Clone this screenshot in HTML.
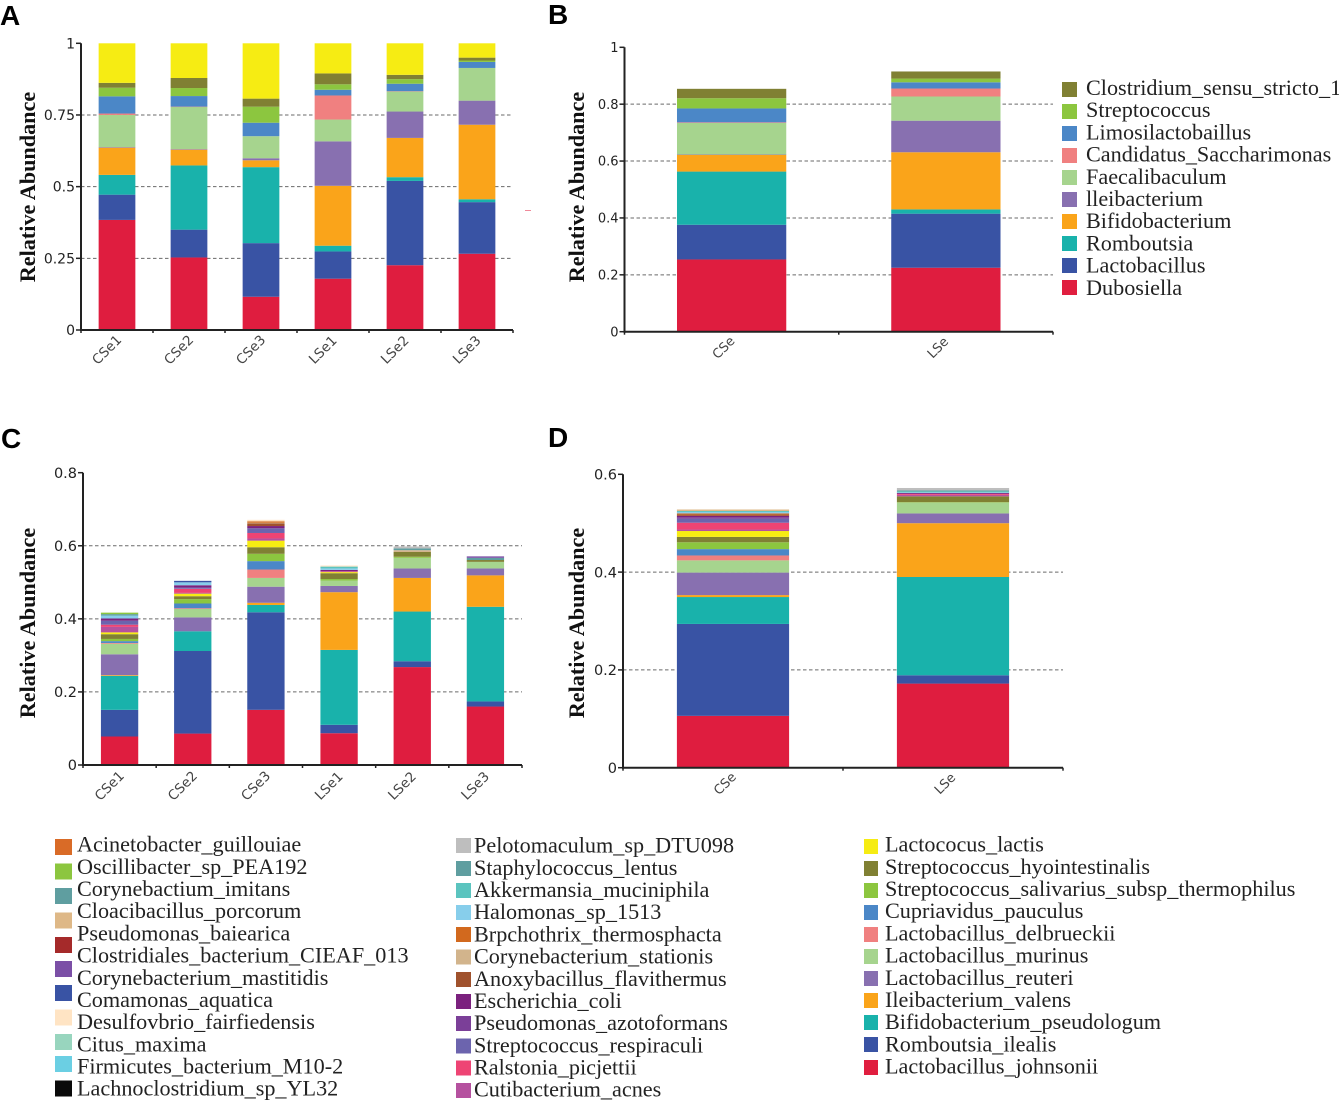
<!DOCTYPE html>
<html lang="en">
<head>
<meta charset="utf-8">
<title>Relative abundance stacked bar charts</title>
<style>
html,body{margin:0;padding:0;background:#fff;}
svg{display:block;}
.panel-letter{font-family:"Liberation Sans",sans-serif;font-weight:bold;font-size:28px;fill:#000;}
.axis-title{font-family:"Liberation Serif",serif;font-weight:bold;font-size:22.2px;fill:#111;text-anchor:middle;}
.legend-text{font-family:"Liberation Serif",serif;font-size:22.2px;fill:#222;}
.y-tick{font-family:"DejaVu Sans",sans-serif;fill:#222;text-anchor:end;}
.x-tick{font-family:"DejaVu Sans",sans-serif;fill:#444;text-anchor:middle;}
</style>
</head>
<body>
<svg id="figure" xmlns="http://www.w3.org/2000/svg" width="1339" height="1102" viewBox="0 0 1339 1102">
<rect width="1339" height="1102" fill="#fff"/>
<text class="panel-letter" x="0" y="25">A</text>
<text class="panel-letter" x="548" y="24">B</text>
<text class="panel-letter" x="1" y="448">C</text>
<text class="panel-letter" x="548" y="447">D</text>

<text class="axis-title" transform="translate(35,187) rotate(-90)">Relative Abundance</text>
<text class="axis-title" transform="translate(584,187) rotate(-90)">Relative Abundance</text>
<text class="axis-title" transform="translate(35,623) rotate(-90)">Relative Abundance</text>
<text class="axis-title" transform="translate(584,623) rotate(-90)">Relative Abundance</text>

<line x1="525" y1="210.5" x2="531" y2="210.5" stroke="#f08a9a" stroke-width="1"/>

<g id="charts"></g>

<g>
<rect x="1062" y="82" width="15" height="15" fill="#808033"/>
<text class="legend-text" x="1086" y="95">Clostridium_sensu_stricto_1</text>
<rect x="1062" y="104" width="15" height="15" fill="#8CC63F"/>
<text class="legend-text" x="1086" y="117.2">Streptococcus</text>
<rect x="1062" y="126" width="15" height="15" fill="#4B87C7"/>
<text class="legend-text" x="1086" y="139.4">Limosilactobaillus</text>
<rect x="1062" y="148" width="15" height="15" fill="#F08080"/>
<text class="legend-text" x="1086" y="161.6">Candidatus_Saccharimonas</text>
<rect x="1062" y="170" width="15" height="15" fill="#A6D48E"/>
<text class="legend-text" x="1086" y="183.8">Faecalibaculum</text>
<rect x="1062" y="192" width="15" height="15" fill="#8870B0"/>
<text class="legend-text" x="1086" y="206">lleibacterium</text>
<rect x="1062" y="214" width="15" height="15" fill="#FAA41A"/>
<text class="legend-text" x="1086" y="228.2">Bifidobacterium</text>
<rect x="1062" y="236" width="15" height="15" fill="#19B2AB"/>
<text class="legend-text" x="1086" y="250.4">Romboutsia</text>
<rect x="1062" y="258" width="15" height="15" fill="#3953A4"/>
<text class="legend-text" x="1086" y="272.6">Lactobacillus</text>
<rect x="1062" y="280" width="15" height="15" fill="#E01E3F"/>
<text class="legend-text" x="1086" y="294.8">Dubosiella</text>
</g>

<g>
<rect x="55" y="839" width="17" height="16" fill="#D96B27"/>
<text class="legend-text" x="77" y="851.7">Acinetobacter_guillouiae</text>
<rect x="55" y="863.5" width="17" height="16" fill="#8CC63F"/>
<text class="legend-text" x="77" y="873.9">Oscillibacter_sp_PEA192</text>
<rect x="55" y="888" width="17" height="16" fill="#5F9EA0"/>
<text class="legend-text" x="77" y="896">Corynebactium_imitans</text>
<rect x="55" y="912.5" width="17" height="16" fill="#DEB887"/>
<text class="legend-text" x="77" y="918.2">Cloacibacillus_porcorum</text>
<rect x="55" y="937" width="17" height="16" fill="#A52A2A"/>
<text class="legend-text" x="77" y="940.4">Pseudomonas_baiearica</text>
<rect x="55" y="961" width="17" height="16" fill="#7B4FA6"/>
<text class="legend-text" x="77" y="962.6">Clostridiales_bacterium_CIEAF_013</text>
<rect x="55" y="985" width="17" height="16" fill="#3953A4"/>
<text class="legend-text" x="77" y="984.8">Corynebacterium_mastitidis</text>
<rect x="55" y="1009.5" width="17" height="16" fill="#FFE4C4"/>
<text class="legend-text" x="77" y="1007">Comamonas_aquatica</text>
<rect x="55" y="1034" width="17" height="16" fill="#98D5BE"/>
<text class="legend-text" x="77" y="1029.2">Desulfovbrio_fairfiedensis</text>
<rect x="55" y="1056" width="17" height="16" fill="#6BCFE3"/>
<text class="legend-text" x="77" y="1051.4">Citus_maxima</text>
<rect x="55" y="1080.5" width="17" height="16" fill="#0A0A0A"/>
<text class="legend-text" x="77" y="1073.6">Firmicutes_bacterium_M10-2</text>
<text class="legend-text" x="77" y="1095.7">Lachnoclostridium_sp_YL32</text>
</g>

<g>
<rect x="456" y="838" width="15" height="15" fill="#BEBEBE"/>
<text class="legend-text" x="474" y="852.7">Pelotomaculum_sp_DTU098</text>
<rect x="456" y="861" width="15" height="15" fill="#5F9EA0"/>
<text class="legend-text" x="474" y="874.9">Staphylococcus_lentus</text>
<rect x="456" y="883" width="15" height="15" fill="#5BC4BF"/>
<text class="legend-text" x="474" y="897">Akkermansia_muciniphila</text>
<rect x="456" y="905" width="15" height="15" fill="#87CEEB"/>
<text class="legend-text" x="474" y="919.2">Halomonas_sp_1513</text>
<rect x="456" y="927" width="15" height="15" fill="#D2691E"/>
<text class="legend-text" x="474" y="941.4">Brpchothrix_thermosphacta</text>
<rect x="456" y="949.5" width="15" height="15" fill="#D2B48C"/>
<text class="legend-text" x="474" y="963.6">Corynebacterium_stationis</text>
<rect x="456" y="972" width="15" height="15" fill="#A0522D"/>
<text class="legend-text" x="474" y="985.8">Anoxybacillus_flavithermus</text>
<rect x="456" y="994" width="15" height="15" fill="#7B217E"/>
<text class="legend-text" x="474" y="1008">Escherichia_coli</text>
<rect x="456" y="1016" width="15" height="15" fill="#7B3F98"/>
<text class="legend-text" x="474" y="1030.2">Pseudomonas_azotoformans</text>
<rect x="456" y="1038.5" width="15" height="15" fill="#6C64AE"/>
<text class="legend-text" x="474" y="1052.4">Streptococcus_respiraculi</text>
<rect x="456" y="1060.5" width="15" height="15" fill="#EE4474"/>
<text class="legend-text" x="474" y="1074.6">Ralstonia_picjettii</text>
<rect x="456" y="1083" width="15" height="15" fill="#B5519F"/>
<text class="legend-text" x="474" y="1096.7">Cutibacterium_acnes</text>
</g>

<g>
<rect x="864" y="839" width="14" height="15" fill="#F6EC13"/>
<text class="legend-text" x="885" y="851.7">Lactococus_lactis</text>
<rect x="864" y="861" width="14" height="15" fill="#808033"/>
<text class="legend-text" x="885" y="873.9">Streptococcus_hyointestinalis</text>
<rect x="864" y="883" width="14" height="15" fill="#8CC63F"/>
<text class="legend-text" x="885" y="896">Streptococcus_salivarius_subsp_thermophilus</text>
<rect x="864" y="905" width="14" height="15" fill="#4B87C7"/>
<text class="legend-text" x="885" y="918.2">Cupriavidus_pauculus</text>
<rect x="864" y="927" width="14" height="15" fill="#F08080"/>
<text class="legend-text" x="885" y="940.4">Lactobacillus_delbrueckii</text>
<rect x="864" y="949" width="14" height="15" fill="#A6D48E"/>
<text class="legend-text" x="885" y="962.6">Lactobacillus_murinus</text>
<rect x="864" y="971" width="14" height="15" fill="#8870B0"/>
<text class="legend-text" x="885" y="984.8">Lactobacillus_reuteri</text>
<rect x="864" y="993" width="14" height="15" fill="#FAA41A"/>
<text class="legend-text" x="885" y="1007">Ileibacterium_valens</text>
<rect x="864" y="1015" width="14" height="15" fill="#19B2AB"/>
<text class="legend-text" x="885" y="1029.2">Bifidobacterium_pseudologum</text>
<rect x="864" y="1037" width="14" height="15" fill="#3953A4"/>
<text class="legend-text" x="885" y="1051.3">Romboutsia_ilealis</text>
<rect x="864" y="1060" width="14" height="15" fill="#E01E3F"/>
<text class="legend-text" x="885" y="1073.3">Lactobacillus_johnsonii</text>
</g>
</svg>

<script>
// Series colours, bottom of stack upward
const seriesColors = ["#DF1D3F","#3953A4","#19B2AB","#FAA41A","#8870B0","#A6D48E","#F08080","#4B87C7","#8CC63F","#808033","#F6EC13","#B5519F","#EE4474","#6C64AE","#7B3F98","#7B217E","#A0522D","#D2B48C","#D2691E","#87CEEB","#5BC4BF","#5F9EA0","#BEBEBE","#0A0A0A","#6BCFE3","#98D5BE","#FFE4C4","#3953A4","#7B4FA6","#8A3A8A","#A52A2A","#DEB887","#5F9EA0","#8CC63F","#D2691E"];

// Panel A: genus level, samples
const panelACategories = ["CSe1","CSe2","CSe3","LSe1","LSe2","LSe3"];
const panelATicks = [0,0.25,0.5,0.75,1];
const panelATickLabels = ["0","0.25","0.5","0.75","1"];
const panelACSe1 = [.384,.088,.069,.095,.002,.112,.005,.060,.030,.017,.138];
const panelACSe2 = [.253,.097,.224,.055,.002,.147,.001,.037,.028,.035,.121];
const panelACSe3 = [.116,.187,.265,.024,.007,.077,0,.047,.056,.028,.193];
const panelALSe1 = [.179,.095,.020,.209,.155,.076,.084,.020,.019,.038,.105];
const panelALSe2 = [.226,.294,.013,.137,.092,.070,.001,.026,.016,.015,.110];
const panelALSe3 = [.266,.180,.010,.260,.084,.114,0,.021,.005,.010,.050];

// Panel B: genus level, groups
const panelBCategories = ["CSe","LSe"];
const panelBTicks = [0,0.2,0.4,0.6,0.8,1];
const panelBTickLabels = ["0","0.2","0.4","0.6","0.8","1"];
const panelBCSe = [.254,.122,.187,.059,.001,.111,.002,.049,.036,.033];
const panelBLSe = [.225,.190,.015,.201,.111,.085,.028,.022,.013,.025];

// Panel C: species level, samples
const panelCCategories = ["CSe1","CSe2","CSe3","LSe1","LSe2","LSe3"];
const panelCTicks = [0,0.2,0.4,0.6,0.8];
const panelCTickLabels = ["0","0.2","0.4","0.6","0.8"];
const panelCCSe1 = [.078,.073,.093,.002,.057,.029,.002,.005,.006,.013,.005,.015,.006,.011,0,.006,0,0,0,.008,0,.004,0,0,0,0,0,0,0,0,0,0,0,.004,0];
const panelCCSe2 = [.086,.226,.054,0,.038,.023,.002,.013,.012,.008,.007,.002,.011,.002,.003,.005,0,0,0,.008,0,0,0,0,0,0,0,.004,0,0,0,0,0,0,0];
const panelCCSe3 = [.151,.267,.020,.006,.044,.024,.023,.023,.020,.018,.018,.006,.015,.013,0,.006,.007,.002,.004,0,0,0,0,0,0,0,.004,0,0,0,0,0,0,0,0];
const panelCLSe1 = [.087,.023,.205,.158,.017,.015,0,0,.004,.016,.003,.001,.001,0,0,.004,0,0,0,.004,.005,0,0,0,0,0,.003,0,0,0,0,0,0,0,0];
const panelCLSe2 = [.268,.016,.136,.092,.026,.029,0,0,.003,.013,0,0,0,0,0,0,0,.005,0,0,0,.005,.005,0,0,0,0,0,0,0,0,0,0,0,0];
const panelCLSe3 = [.160,.014,.259,.086,.019,.018,0,0,0,.005,0,0,0,0,0,0,0,0,0,0,0,.006,0,0,0,0,0,0,.004,0,0,0,0,0,0];

// Panel D: species level, groups
const panelDCategories = ["CSe","LSe"];
const panelDTicks = [0,0.2,0.4,0.6];
const panelDTickLabels = ["0","0.2","0.4","0.6"];
const panelDCSe = [.106,.188,.055,.004,.046,.025,.010,.013,.014,.011,.012,.003,.014,.008,.003,.003,.003,0,.002,.003,.002,0,0,0,0,0,0,0,0,0,0,.003,0,0,0];
const panelDLSe = [.172,.017,.201,.110,.020,.022,0,0,.001,.012,0,.003,.002,0,0,.002,0,0,0,.001,.002,.002,.005,0,0,0,0,0,0,0,0,0,0,0,0];

const SVG_NS = "http://www.w3.org/2000/svg";
const chartLayer = document.getElementById("charts");

function makeLine(parent, x1, y1, x2, y2, stroke, width, dash) {
  const ln = document.createElementNS(SVG_NS, "line");
  ln.setAttribute("x1", x1);
  ln.setAttribute("y1", y1);
  ln.setAttribute("x2", x2);
  ln.setAttribute("y2", y2);
  ln.setAttribute("stroke", stroke);
  ln.setAttribute("stroke-width", width);
  if (dash) ln.setAttribute("stroke-dasharray", dash);
  parent.appendChild(ln);
  return ln;
}

function drawPanel(id, box, categories, stacks, ticks, tickLabels) {
  const g = document.createElementNS(SVG_NS, "g");
  
  
  chartLayer.appendChild(g);

  const yMax = ticks[ticks.length - 1];
  const yScale = v => box.bottom - (v / yMax) * (box.bottom - box.top);
  const slot = (box.right - box.left) / categories.length;
  const xCenter = i => box.left + slot * (i + 0.5);
  const barWidth = slot * 0.51;

  // gridlines behind the bars
  ticks.forEach((t, i) => {
    if (i === 0 || i === ticks.length - 1) return;
    const grid = makeLine(g, box.left, yScale(t), box.right, yScale(t), "#6a6a6a", 1, "3.5 2.5");
    
    
  });

  // stacked bars
  categories.forEach((cat, c) => {
    let cumulative = 0;
    stacks[c].forEach((value, s) => {
      if (value <= 0) return;
      const y1 = yScale(cumulative + value);
      const y0 = yScale(cumulative);
      cumulative += value;
      const r = document.createElementNS(SVG_NS, "rect");
      r.setAttribute("x", xCenter(c) - barWidth / 2);
      r.setAttribute("y", y1);
      r.setAttribute("width", barWidth);
      r.setAttribute("height", Math.max(y0 - y1, 0.4));
      r.setAttribute("fill", seriesColors[s]);
      
      
      g.appendChild(r);
    });
  });

  // axes
  const yAxis = makeLine(g, box.left, box.top, box.left, box.bottom + 1, "#222", box.axisWidth);
  
  
  const xAxis = makeLine(g, box.left - 1, box.bottom, box.right, box.bottom, "#222", box.axisWidth);
  
  

  // y ticks and labels
  ticks.forEach((t, i) => {
    const y = yScale(t);
    const mark = makeLine(g, box.left - 5, y, box.left, y, "#222", 1.5);
    
    
    const label = document.createElementNS(SVG_NS, "text");
    label.setAttribute("class", "y-tick");
    label.setAttribute("x", box.left - 6);
    label.setAttribute("y", y + box.tickFont * 0.36);
    label.setAttribute("font-size", box.tickFont);
    label.textContent = tickLabels[i];
    
    
    g.appendChild(label);
  });

  // x ticks and labels
  for (let i = 0; i <= categories.length; i++) {
    const x = box.left + slot * i;
    const mark = makeLine(g, x, box.bottom, x, box.bottom + 3, "#222", 1.5);
    
    
  }
  categories.forEach((cat, c) => {
    const label = document.createElementNS(SVG_NS, "text");
    label.setAttribute("class", "x-tick");
    const lx = xCenter(c) + box.labelDx;
    const ly = box.bottom + box.labelDy;
    label.setAttribute("transform", "translate(" + lx + "," + ly + ") rotate(-45)");
    label.setAttribute("font-size", box.labelFont);
    label.textContent = cat;
    
    
    g.appendChild(label);
  });
}

drawPanel("a", {left:81, right:513, top:43.3, bottom:330, tickFont:14, axisWidth:2, labelFont:13.5, labelDx:-7, labelDy:23}, panelACategories,
  [panelACSe1, panelACSe2, panelACSe3, panelALSe1, panelALSe2, panelALSe3], panelATicks, panelATickLabels);
drawPanel("b", {left:624.5, right:1053, top:47.3, bottom:331.7, tickFont:13, axisWidth:2, labelFont:13, labelDx:-5, labelDy:19}, panelBCategories,
  [panelBCSe, panelBLSe], panelBTicks, panelBTickLabels);
drawPanel("c", {left:83, right:522, top:472.7, bottom:765, tickFont:14.5, axisWidth:2, labelFont:13.5, labelDx:-7, labelDy:24}, panelCCategories,
  [panelCCSe1, panelCCSe2, panelCCSe3, panelCLSe1, panelCLSe2, panelCLSe3], panelCTicks, panelCTickLabels);
drawPanel("d", {left:623, right:1063, top:474.3, bottom:767.7, tickFont:14.5, axisWidth:2, labelFont:13, labelDx:-5, labelDy:19}, panelDCategories,
  [panelDCSe, panelDLSe], panelDTicks, panelDTickLabels);
</script>
</body>
</html>
